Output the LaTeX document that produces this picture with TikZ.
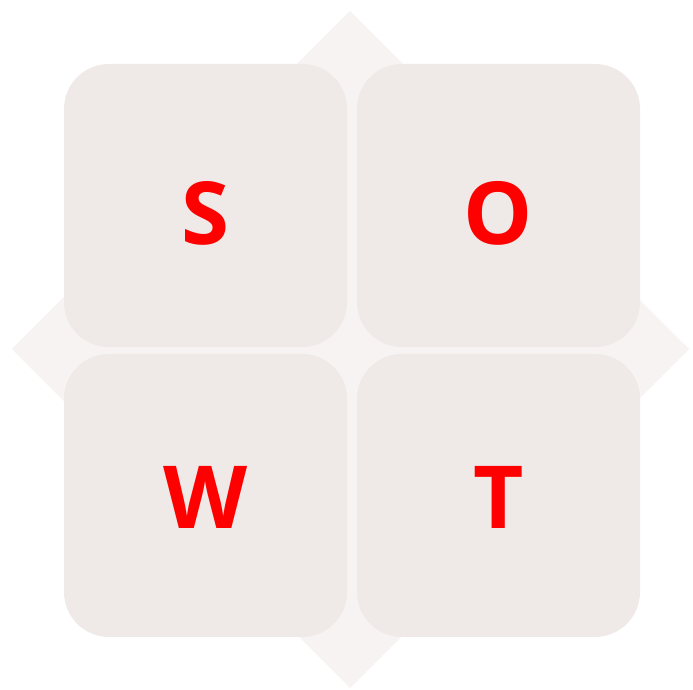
\documentclass[tikz,border=0pt]{standalone}
\usepackage{fontspec}
\setmainfont{Open Sans}[BoldFont={* Bold}]
\definecolor{boxfill}{HTML}{EFEAE8}
\definecolor{diafill}{HTML}{F6F3F2}
\definecolor{lettred}{HTML}{FF0000}
\begin{document}
\begin{tikzpicture}[x=1pt,y=1pt,
  quad/.style={fill=boxfill,draw=none,rounded corners=45pt},
  letter/.style={text=lettred,font=\fontsize{87}{87}\selectfont\bfseries,anchor=base,inner sep=0pt}]
\useasboundingbox (0,0) rectangle (693,690);
\fill[diafill] (350,679) -- (689,341) -- (350,2) -- (12,341) -- cycle;
\path[quad] (64,343) rectangle (347,626);
\path[quad] (357,343) rectangle (640,626);
\path[quad] (64,53) rectangle (347,336);
\path[quad] (357,53) rectangle (640,336);
\node[letter] (s) at (205.5,445) {S};
\node[letter] (o) at (498.5,445) {O};
\node[letter] (w) at (205.5,161) {W};
\node[letter] (t) at (498.5,161) {T};
\end{tikzpicture}
\end{document}
